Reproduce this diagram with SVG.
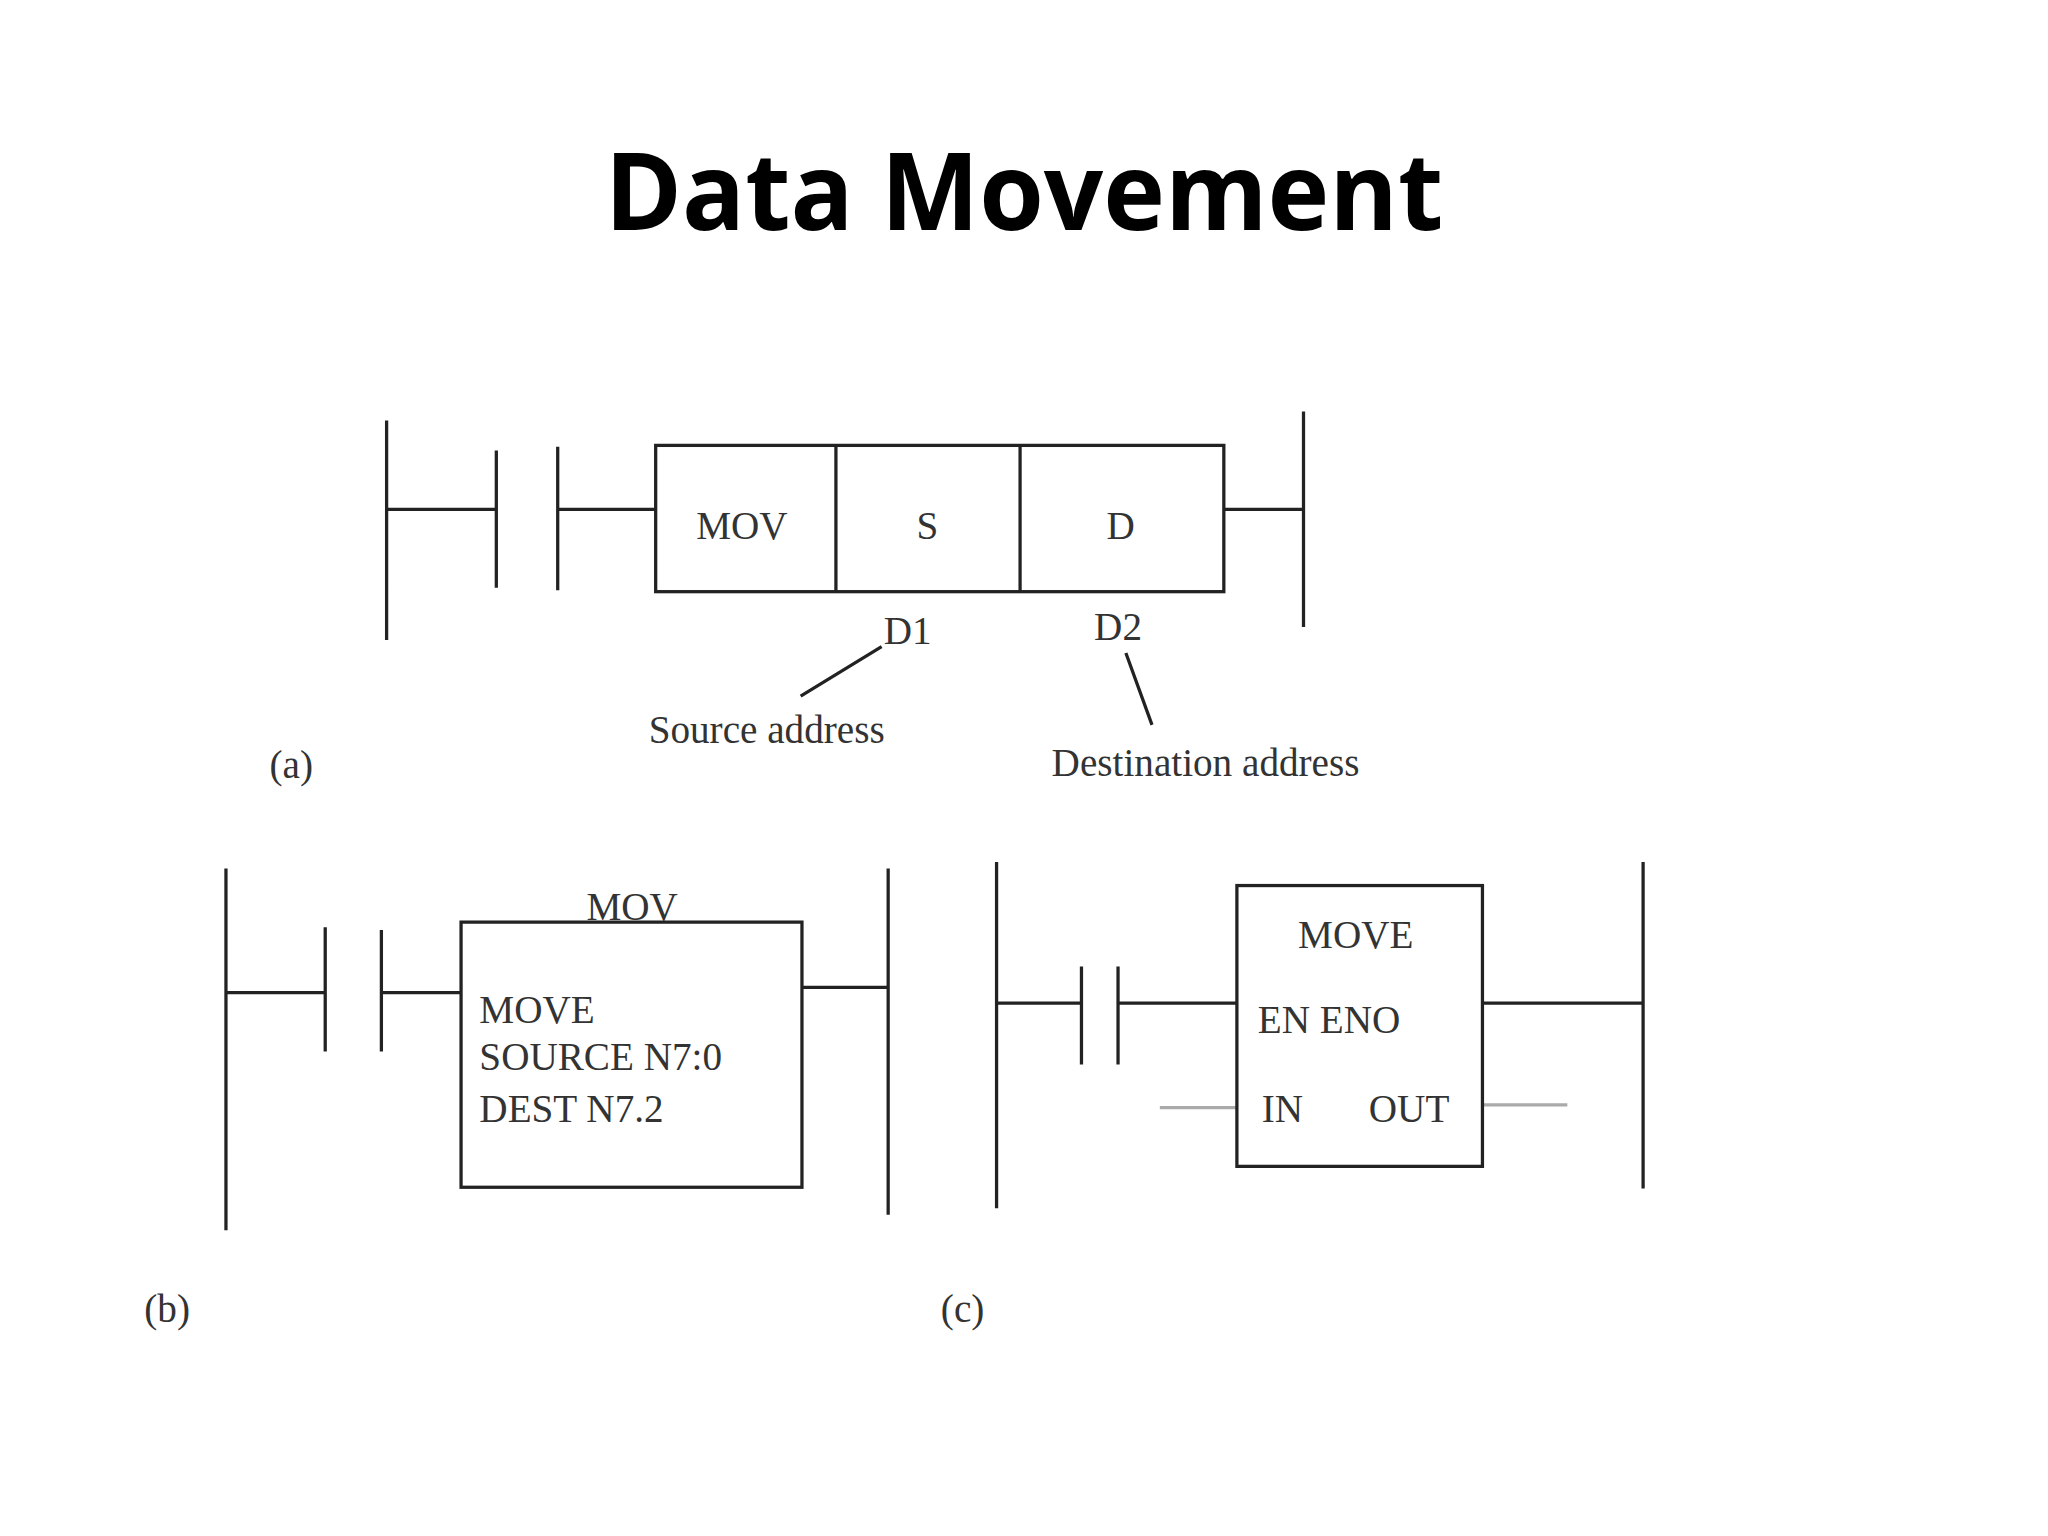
<svg xmlns="http://www.w3.org/2000/svg" width="2048" height="1536" viewBox="0 0 2048 1536">
<style>
.l{stroke:#222;stroke-width:2.5;fill:none}
.t{font-family:"Liberation Serif",serif;font-size:30px;fill:#333}
.c{text-anchor:middle}
</style>
<rect width="2048" height="1536" fill="#fff"/>
<g transform="scale(1.30612)">
<text x="784" y="176" text-anchor="middle" font-family="Open Sans,sans-serif" font-weight="bold" font-size="82" textLength="642" lengthAdjust="spacingAndGlyphs">Data Movement</text>
<g id="connectors">
<path class="l" d="M296 322V490M296 390H380M380 345V450M427 342V452M427 390H502M937 390H998M998 315V480M675 495L613 533M862 500L882 555"/>
<path class="l" d="M173 665V942M173 760H249M249 710V805M292 712V805M292 760H353M614 756H680M680 665V930"/>
<path class="l" d="M763 660V925M763 768H828M828 740V815M856 740V815M856 768H947M1135 768H1258M1258 660V910"/>
<path d="M888 848H947M1135 846H1200" stroke="#aaa" stroke-width="2.5"/>
</g>
<g id="nodeA">
<rect class="l" x="502" y="341" width="435" height="112"/>
<path class="l" d="M640 341V453" stroke-width="4"/>
<path class="l" d="M781 341V453"/>
<text class="t c" x="568" y="413">MOV</text>
<text class="t c" x="710" y="413">S</text>
<text class="t c" x="858" y="413">D</text>
<text class="t c" x="695" y="493">D1</text>
<text class="t c" x="856" y="490">D2</text>
<text class="t c" x="587" y="569">Source address</text>
<text class="t c" x="923" y="594">Destination address</text>
<text class="t c" x="223" y="596">(a)</text>
</g>
<g id="nodeB">
<rect class="l" x="353" y="706" width="261" height="203"/>
<text class="t c" x="484" y="704">MOV</text>
<text class="t" x="367" y="783">MOVE</text>
<text class="t" x="367" y="819">SOURCE N7:0</text>
<text class="t" x="367" y="859">DEST N7.2</text>
<text class="t c" x="128" y="1012">(b)</text>
</g>
<g id="nodeC">
<rect class="l" x="947" y="678" width="188" height="215"/>
<text class="t c" x="1038" y="726">MOVE</text>
<text class="t" x="963" y="791">EN ENO</text>
<text class="t" x="966" y="859">IN</text>
<text class="t" x="1048" y="859">OUT</text>
<text class="t c" x="737" y="1012">(c)</text>
</g>
</g>
</svg>
